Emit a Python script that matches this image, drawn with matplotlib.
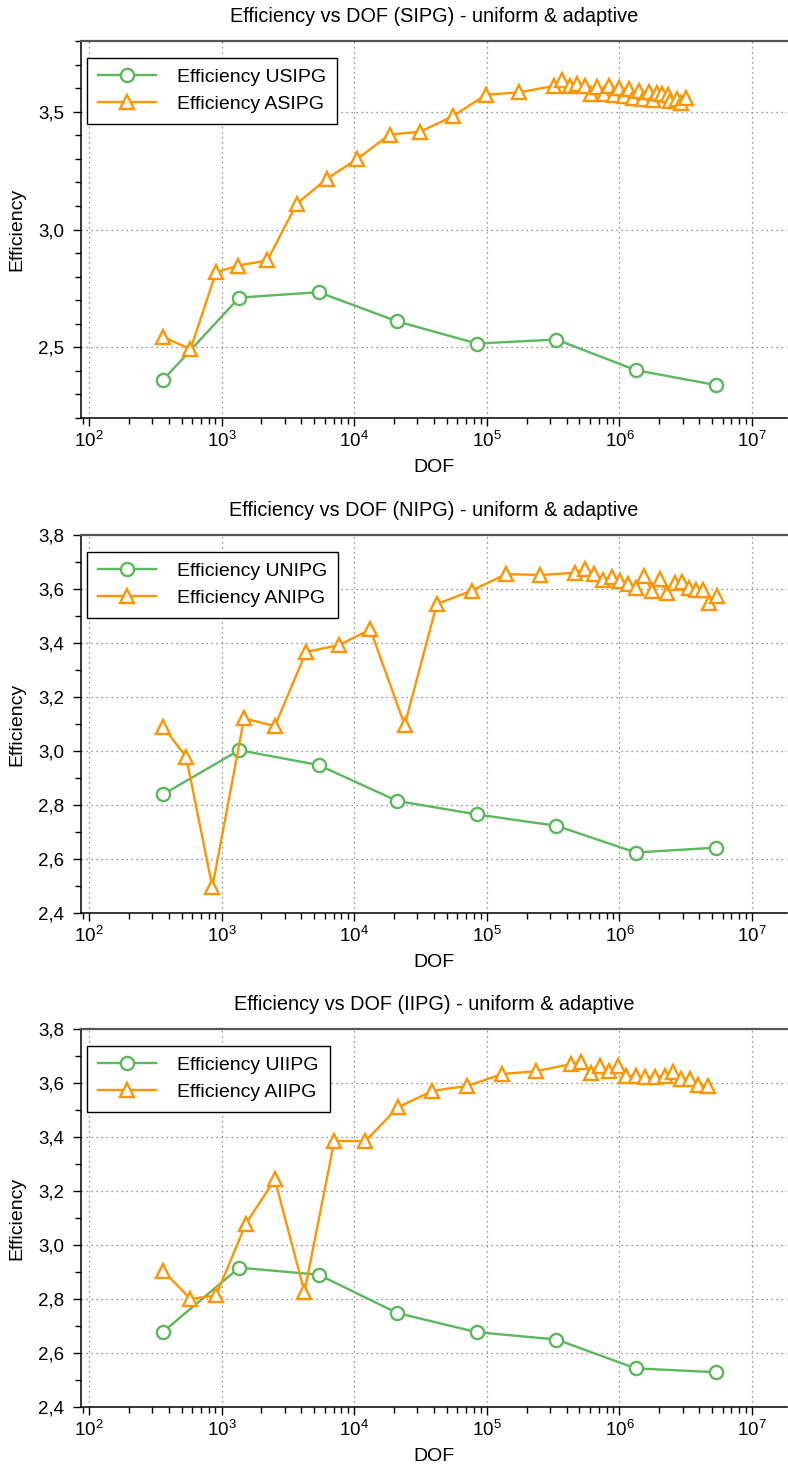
import matplotlib
matplotlib.use("Agg")
import matplotlib.pyplot as plt
from matplotlib import font_manager
from matplotlib.ticker import MultipleLocator, FuncFormatter, LogLocator, LogFormatterMathtext, NullFormatter

# ---------------- data ----------------
uniform_dof = [364, 1358, 5395, 21090, 84400, 335000, 1.33e6, 5.33e6]

usipg = [2.363, 2.711, 2.734, 2.610, 2.516, 2.533, 2.403, 2.340]
unipg = [2.840, 3.003, 2.948, 2.815, 2.765, 2.723, 2.624, 2.642]
uiipg = [2.679, 2.916, 2.890, 2.748, 2.677, 2.650, 2.543, 2.529]

asipg_dof = [364, 583, 910, 1340, 2214, 3690, 6210, 10590, 18500, 31560, 55200, 98700, 176000,
             319000, 369000, 422000, 479000, 547000, 607000, 681000, 760000, 830000, 904000,
             986000, 1.076e6, 1.172e6, 1.265e6, 1.403e6, 1.503e6, 1.660e6, 1.791e6, 1.919e6,
             2.104e6, 2.323e6, 2.388e6, 2.729e6, 2.924e6, 3.192e6]
asipg = [2.544, 2.492, 2.819, 2.847, 2.869, 3.109, 3.215, 3.300, 3.403, 3.415, 3.480, 3.572, 3.582,
         3.609, 3.633, 3.611, 3.616, 3.611, 3.576, 3.605, 3.573, 3.611, 3.569,
         3.600, 3.565, 3.597, 3.559, 3.586, 3.555, 3.583, 3.551, 3.579,
         3.576, 3.569, 3.544, 3.555, 3.538, 3.559]

anipg_dof = [364, 541, 853, 1479, 2523, 4341, 7640, 13240, 24050, 42000, 76900, 139500, 253500,
             465000, 549000, 643000, 751000, 874000, 1.004e6, 1.16e6, 1.34e6, 1.53e6, 1.77e6,
             2.01e6, 2.30e6, 2.61e6, 2.97e6, 3.34e6, 3.79e6, 4.30e6, 4.78e6, 5.42e6]
anipg = [3.089, 2.978, 2.496, 3.121, 3.092, 3.367, 3.392, 3.450, 3.096, 3.544, 3.594, 3.655, 3.652,
         3.660, 3.674, 3.654, 3.633, 3.645, 3.629, 3.617, 3.605, 3.649, 3.592,
         3.637, 3.584, 3.621, 3.627, 3.602, 3.596, 3.596, 3.549, 3.574]

aiipg_dof = [364, 583, 910, 1527, 2523, 4220, 7080, 12170, 21430, 38900, 71100, 130300, 236000,
             433000, 516000, 607000, 709000, 829000, 975000, 1.13e6, 1.34e6, 1.57e6, 1.86e6,
             2.19e6, 2.53e6, 2.93e6, 3.42e6, 3.95e6, 4.65e6]
aiipg = [2.904, 2.800, 2.813, 3.079, 3.243, 2.826, 3.385, 3.385, 3.510, 3.571, 3.589, 3.633, 3.644,
         3.670, 3.679, 3.636, 3.663, 3.645, 3.663, 3.626, 3.626, 3.623, 3.621,
         3.626, 3.639, 3.613, 3.613, 3.592, 3.590]

methods = ["SIPG", "NIPG", "IIPG"]
uniform_vals = [usipg, unipg, uiipg]
adaptive_dofs = [asipg_dof, anipg_dof, aiipg_dof]
adaptive_vals = [asipg, anipg, aiipg]
ylims = [(2.2, 3.8), (2.4, 3.8), (2.4, 3.8)]
ymajor = [0.5, 0.2, 0.2]

# ---------------- style ----------------
names = {f.name for f in font_manager.fontManager.ttflist}
main_font = "Liberation Sans" if "Liberation Sans" in names else "DejaVu Sans"
narrow = "Liberation Sans Narrow" in names
tick_font = "Liberation Sans Narrow" if narrow else main_font
tick_size = 15 if narrow else 13.5

plt.rcParams["font.family"] = [main_font, "DejaVu Sans"]
plt.rcParams["mathtext.fontset"] = "custom"
plt.rcParams["mathtext.rm"] = tick_font
plt.rcParams["mathtext.it"] = tick_font
plt.rcParams["mathtext.bf"] = tick_font

GREEN = "#5cb85c"
ORANGE = "#ff9500"

fig = plt.figure(figsize=(7.88, 14.68), dpi=100)
W, H = 788.0, 1468.0
panels_px = [(41, 418), (535, 913), (1029, 1407)]
left_px, right_px = 81, 787

comma = FuncFormatter(lambda v, p: f"{v:.1f}".replace(".", ","))

for i in range(3):
    top, bot = panels_px[i]
    ax = fig.add_axes([left_px / W, 1 - bot / H, (right_px - left_px) / W, (bot - top) / H])
    ax.set_xscale("log")
    ax.plot(uniform_dof, uniform_vals[i], color=GREEN, lw=1.7, marker="o", ms=9.5,
            mfc="white", mec=GREEN, mew=1.7, label=f"Efficiency U{methods[i]}", zorder=3)
    ax.plot(adaptive_dofs[i], adaptive_vals[i], color=ORANGE, lw=1.7, marker="^", ms=9.5,
            mfc="white", mec=ORANGE, mew=1.7, label=f"Efficiency A{methods[i]}", zorder=4)

    ax.set_xlim(10 ** 1.94, 10 ** 7.264)
    ax.set_ylim(*ylims[i])
    ax.yaxis.set_major_locator(MultipleLocator(ymajor[i]))
    ax.yaxis.set_minor_locator(MultipleLocator(0.1))
    ax.yaxis.set_major_formatter(comma)
    ax.xaxis.set_major_locator(LogLocator(base=10, numticks=15))
    ax.xaxis.set_minor_locator(LogLocator(base=10, subs=range(2, 10), numticks=15))
    ax.xaxis.set_major_formatter(LogFormatterMathtext())
    ax.xaxis.set_minor_formatter(NullFormatter())

    ax.tick_params(axis="both", which="both", direction="out", top=False, right=False,
                   labelsize=tick_size, labelfontfamily=tick_font)
    ax.tick_params(axis="y", which="major", length=6, width=1, pad=6)
    ax.tick_params(axis="y", which="minor", length=4, width=1)
    ax.tick_params(axis="x", which="major", length=6, width=1, pad=3)
    ax.tick_params(axis="x", which="minor", length=4, width=1)

    ax.grid(True, which="major", linestyle=(0, (1, 3)), color="#777777", linewidth=0.9)
    ax.spines["right"].set_visible(False)
    ax.spines["top"].set_color("#555555")
    ax.spines["top"].set_linewidth(1.6)
    ax.spines["left"].set_linewidth(1.1)
    ax.spines["bottom"].set_linewidth(1.1)

    ax.set_title(f"Efficiency vs DOF ({methods[i]}) - uniform & adaptive", fontsize=14.3, pad=14)
    ax.set_xlabel("DOF", fontsize=14)
    ax.set_ylabel("Efficiency", fontsize=14)
    ax.xaxis.set_label_coords(0.5, -0.108)
    ax.yaxis.set_label_coords(-0.079, 0.5)

    leg = ax.legend(loc="upper left", bbox_to_anchor=(0.0085, 0.956), borderaxespad=0,
                    fontsize=14, frameon=True, fancybox=False, shadow=False,
                    handlelength=3.0, handletextpad=1.1, labelspacing=0.5, borderpad=0.55)
    leg.get_frame().set_edgecolor("black")
    leg.get_frame().set_linewidth(1.0)
    leg.get_frame().set_alpha(1.0)

fig.savefig("out.png", dpi=100)
